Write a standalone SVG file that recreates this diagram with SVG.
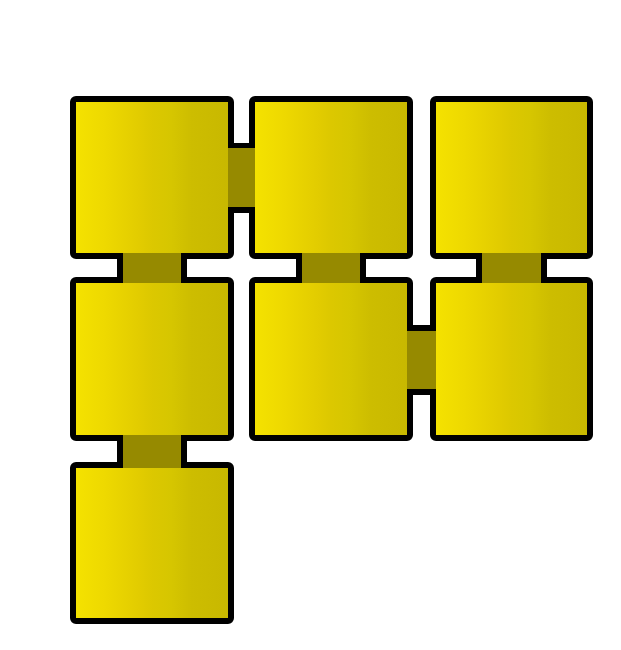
<svg xmlns="http://www.w3.org/2000/svg" width="621" height="650" viewBox="0 0 621 650">
<defs>
<linearGradient id="g" x1="0" y1="0" x2="1" y2="0">
<stop offset="0" stop-color="#f5e300"/>
<stop offset="0.2" stop-color="#eed900"/>
<stop offset="0.42" stop-color="#e2cc00"/>
<stop offset="0.5" stop-color="#dcc800"/>
<stop offset="0.62" stop-color="#d6c600"/>
<stop offset="0.75" stop-color="#cdbd00"/>
<stop offset="1" stop-color="#c8b800"/>
</linearGradient>
</defs>
<style>
.sq{fill:url(#g);stroke:#000;stroke-width:6}
.cb{fill:#000}
.co{fill:#968a00}
</style>
<rect width="621" height="650" fill="#fff"/>
<g id="n1"><rect class="sq" x="73" y="99" width="158" height="157" rx="3"/></g>
<g id="n2"><rect class="sq" x="252" y="99" width="158" height="157" rx="3"/></g>
<g id="n3"><rect class="sq" x="433" y="99" width="157" height="157" rx="3"/></g>
<g id="n4"><rect class="sq" x="73" y="280" width="158" height="158" rx="3"/></g>
<g id="n5"><rect class="sq" x="252" y="280" width="158" height="158" rx="3"/></g>
<g id="n6"><rect class="sq" x="433" y="280" width="157" height="158" rx="3"/></g>
<g id="n7"><rect class="sq" x="73" y="465" width="158" height="156" rx="3"/></g>
<g id="connectors">
<rect class="cb" x="228" y="143" width="27" height="70"/>
<rect class="co" x="228" y="148" width="27" height="59"/>
<rect class="cb" x="117" y="253" width="70" height="30"/>
<rect class="co" x="123" y="253" width="58" height="30"/>
<rect class="cb" x="296" y="253" width="70" height="30"/>
<rect class="co" x="302" y="253" width="58" height="30"/>
<rect class="cb" x="476" y="253" width="71" height="30"/>
<rect class="co" x="482" y="253" width="59" height="30"/>
<rect class="cb" x="407" y="325" width="29" height="70"/>
<rect class="co" x="407" y="331" width="29" height="58"/>
<rect class="cb" x="117" y="435" width="70" height="33"/>
<rect class="co" x="123" y="435" width="58" height="33"/>
</g>
</svg>
